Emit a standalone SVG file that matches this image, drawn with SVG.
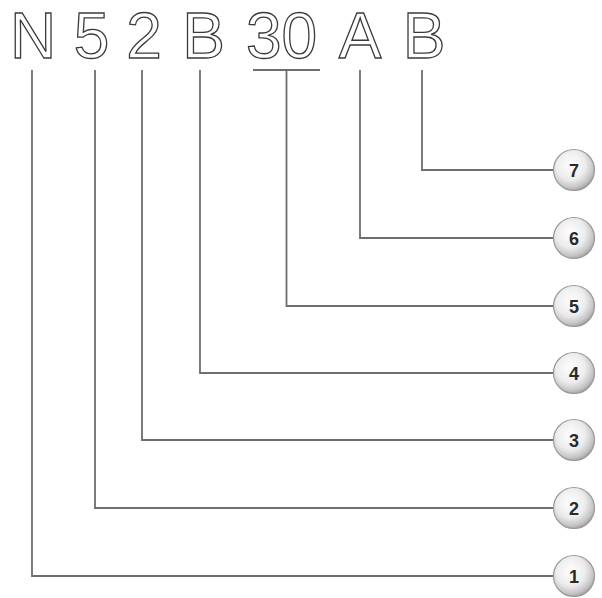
<svg xmlns="http://www.w3.org/2000/svg" width="602" height="598" viewBox="0 0 602 598">
<style>
.ch{font-family:"Liberation Sans",Arial,sans-serif;font-size:64px;fill:#fff;stroke:#3a3a3a;stroke-width:1.3;text-anchor:middle}
.ln{fill:none;stroke:#6e6e6e;stroke-width:1.8}
.bt{fill:url(#g);stroke:#9a9a9a;stroke-width:1.2}
.nm{font-family:"Liberation Sans",Arial,sans-serif;font-size:18px;font-weight:bold;fill:#2a2a2a;text-anchor:middle}
</style>
<defs>
<radialGradient id="g" cx="0.42" cy="0.38" r="0.65">
<stop offset="0" stop-color="#ffffff"/>
<stop offset="0.55" stop-color="#ececec"/>
<stop offset="0.85" stop-color="#c4c4c4"/>
<stop offset="1" stop-color="#9c9c9c"/>
</radialGradient>
</defs>
<g id="code">
<text class="ch" x="33" y="58">N</text>
<text class="ch" x="91.5" y="58">5</text>
<text class="ch" x="144" y="58">2</text>
<text class="ch" x="203.5" y="58">B</text>
<text class="ch" x="281.5" y="58">30</text>
<text class="ch" x="360" y="58">A</text>
<text class="ch" x="424" y="58">B</text>
</g>
<g id="connectors">
<path class="ln" d="M253 70H320"/>
<path class="ln" d="M422 70V170H554"/>
<path class="ln" d="M360 70V238H554"/>
<path class="ln" d="M286.5 70V306H554"/>
<path class="ln" d="M200 70V373H554"/>
<path class="ln" d="M142 70V440H554"/>
<path class="ln" d="M95 70V508H554"/>
<path class="ln" d="M32 70V576H554"/>
</g>
<g id="n7"><circle class="bt" cx="574" cy="170" r="20.5"/><text class="nm" x="574" y="176.5">7</text></g>
<g id="n6"><circle class="bt" cx="574" cy="238" r="20.5"/><text class="nm" x="574" y="244.5">6</text></g>
<g id="n5"><circle class="bt" cx="574" cy="306" r="20.5"/><text class="nm" x="574" y="312.5">5</text></g>
<g id="n4"><circle class="bt" cx="574" cy="373" r="20.5"/><text class="nm" x="574" y="379.5">4</text></g>
<g id="n3"><circle class="bt" cx="574" cy="440" r="20.5"/><text class="nm" x="574" y="446.5">3</text></g>
<g id="n2"><circle class="bt" cx="574" cy="508" r="20.5"/><text class="nm" x="574" y="514.5">2</text></g>
<g id="n1"><circle class="bt" cx="574" cy="576" r="20.5"/><text class="nm" x="574" y="582.5">1</text></g>
</svg>
